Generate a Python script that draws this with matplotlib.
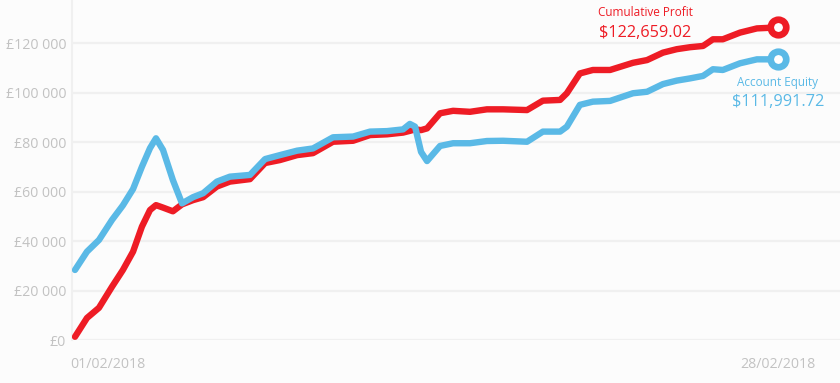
import matplotlib
matplotlib.use("Agg")
import matplotlib.pyplot as plt
import matplotlib.transforms as mtransforms
import numpy as np

plt.rcParams['font.family'] = ['Open Sans', 'DejaVu Sans']

# day offsets from 01/02/2018
days = [0.00, 0.46, 0.92, 1.42, 1.84, 2.23, 2.57, 2.88, 3.11, 3.38, 3.76, 4.11, 4.53,
        4.92, 5.45, 5.95, 6.72, 7.30, 7.87, 8.53, 9.14, 9.91, 10.68, 11.33, 11.98,
        12.60, 12.86, 13.06, 13.29, 13.52, 14.02, 14.52, 15.17, 15.82, 16.44, 17.36,
        17.97, 18.63, 18.89, 19.39, 19.89, 20.55, 21.43, 21.97, 22.58, 23.11, 23.62,
        24.12, 24.50, 24.88, 25.54, 26.19, 27.00]

cumulative_profit = [1300, 8900, 13000, 21500, 28300, 35700, 45800, 52500, 54500, 53500,
                     52000, 54800, 56500, 57700, 62000, 64000, 65000, 71500, 72700, 74700,
                     75500, 80100, 80500, 82800, 83100, 83800, 84500, 85100, 84800, 85500,
                     91600, 92600, 92200, 93200, 93200, 92900, 96700, 97000, 99700, 107700,
                     109100, 109100, 112000, 113100, 116100, 117500, 118300, 118800, 121500,
                     121500, 124200, 125900, 126300]

account_equity = [28300, 35700, 40400, 48500, 54400, 61000, 70000, 77500, 81500, 76800,
                  64600, 55200, 57700, 59300, 64000, 66000, 66700, 73100, 74700, 76500,
                  77400, 81900, 82200, 84200, 84400, 85100, 87300, 86200, 76000, 72300,
                  78400, 79500, 79500, 80400, 80500, 80100, 84200, 84200, 86200, 95000,
                  96300, 96600, 99700, 100300, 103400, 104800, 105700, 106700, 109400,
                  109100, 111800, 113400, 113400]

y_ticks = [0, 20000, 40000, 60000, 80000, 100000, 120000]
y_tick_labels = ['£0', '£20 000', '£40 000', '£60 000', '£80 000', '£100 000', '£120 000']
x_ticks = [0, 27]
x_tick_labels = ['01/02/2018', '28/02/2018']

profit_label = ['Cumulative Profit', '$122,659.02']
equity_label = ['Account Equity', '$111,991.72']

RED = '#ee1c25'
BLUE = '#5ab9e6'
GRID = '#f0f0f0'
TICK = '#c2c2c2'
BG = '#fcfcfc'

fig = plt.figure(figsize=(8.4, 3.83), dpi=100, facecolor=BG)
ax = fig.add_axes([72 / 840, 43 / 383, 1 - 72 / 840, 1 - 43 / 383])
ax.set_facecolor(BG)

ax.set_xlim(-0.115, 29.38)
ax.set_ylim(0, 137374)

for s in ['top', 'right', 'bottom']:
    ax.spines[s].set_visible(False)
ax.spines['left'].set_color(GRID)
ax.spines['left'].set_linewidth(1.5)

ax.set_yticks(y_ticks)
ax.set_yticklabels(y_tick_labels)
ax.yaxis.grid(True, color=GRID, linewidth=1.6)
ax.set_axisbelow(True)
ax.tick_params(axis='y', length=0, pad=4.3, labelsize=10.2, labelcolor=TICK)

ax.set_xticks(x_ticks)
ax.set_xticklabels(x_tick_labels)
ax.tick_params(axis='x', length=0, pad=12, labelsize=10.2, labelcolor=TICK)
first = ax.get_xticklabels()[0]
first.set_ha('left')
first.set_transform(first.get_transform() +
                    mtransforms.ScaledTranslation(-0.05, 0, fig.dpi_scale_trans))

lw = 4.6
ax.plot(days, cumulative_profit, color=RED, lw=lw, solid_joinstyle='round',
        solid_capstyle='round', zorder=3)
ax.plot(days, account_equity, color=BLUE, lw=lw, solid_joinstyle='round',
        solid_capstyle='round', zorder=4)

ax.plot([days[-1]], [cumulative_profit[-1]], 'o', ms=11.2, mew=4.8, mfc='white',
        mec=RED, zorder=5, clip_on=False)
ax.plot([days[-1]], [account_equity[-1]], 'o', ms=11.2, mew=4.8, mfc='white',
        mec=BLUE, zorder=5, clip_on=False)

# annotations
ax.annotate(profit_label[0], xy=(days[-1], cumulative_profit[-1]), xytext=(-133, 15),
            textcoords='offset pixels', ha='center', va='center', color=RED, fontsize=8.5)
ax.annotate(profit_label[1], xy=(days[-1], cumulative_profit[-1]), xytext=(-133, -6),
            textcoords='offset pixels', ha='center', va='center', color=RED, fontsize=11.7)
ax.annotate(equity_label[0], xy=(days[-1], account_equity[-1]), xytext=(-1, -23),
            textcoords='offset pixels', ha='center', va='center', color=BLUE, fontsize=8.5)
ax.annotate(equity_label[1], xy=(days[-1], account_equity[-1]), xytext=(0, -43),
            textcoords='offset pixels', ha='center', va='center', color=BLUE, fontsize=11.7)

fig.savefig('out.png', dpi=100, facecolor=BG)
